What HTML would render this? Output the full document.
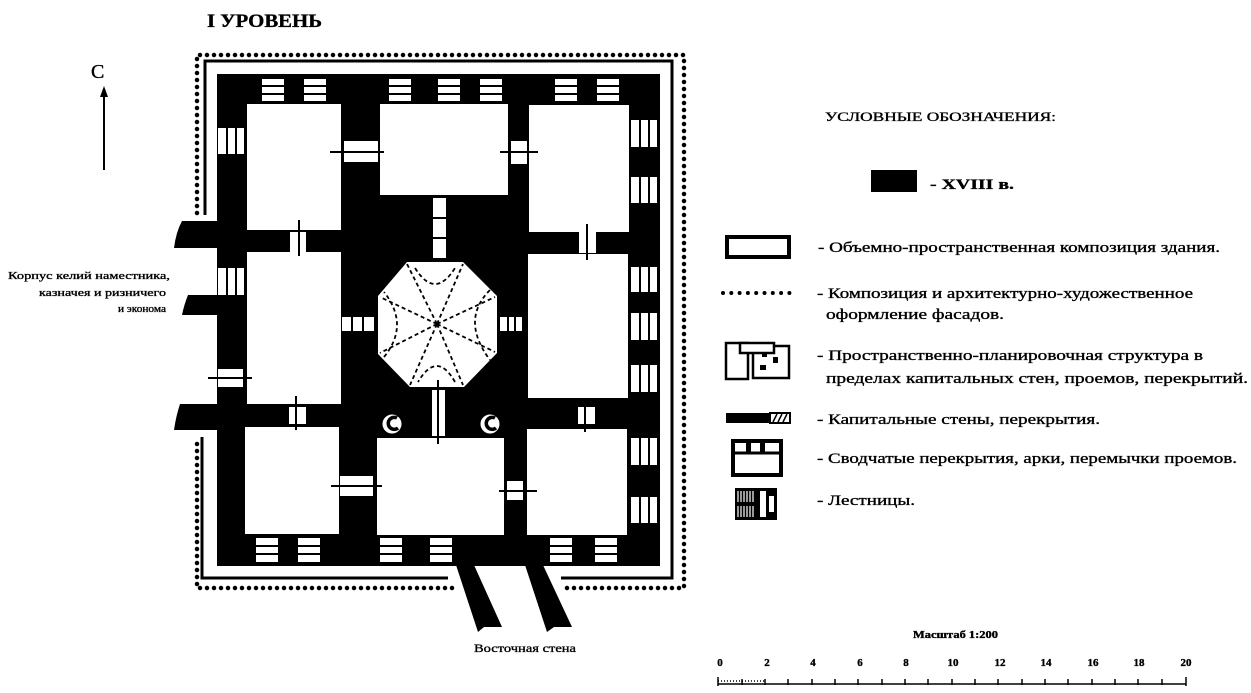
<!DOCTYPE html>
<html><head><meta charset="utf-8"><style>
html,body{margin:0;padding:0;background:#fff;width:1251px;height:693px;overflow:hidden}
svg{display:block}
text{font-family:"Liberation Serif",serif;fill:#000;stroke:#000;stroke-width:0.35}
</style></head><body>
<svg width="1251" height="693" viewBox="0 0 1251 693" xmlns="http://www.w3.org/2000/svg">
<!-- title -->
<text x="207" y="27" font-size="19" font-weight="bold" textLength="115" lengthAdjust="spacingAndGlyphs">I УРОВЕНЬ</text>
<text x="91" y="78" font-size="20">C</text>
<line x1="104" y1="95" x2="104" y2="170" stroke="#000" stroke-width="2"/>
<polygon points="104,86 100,97 108,97" fill="#000"/>

<!-- dotted outer -->
<g stroke="#000" stroke-width="4.5" stroke-dasharray="0 7" stroke-linecap="round" fill="none">
<polyline points="197,213 197,55 684,55 684,588 562,588"/>
<polyline points="452,588 197,588 197,437"/>
</g>
<!-- inner solid -->
<g stroke="#000" stroke-width="3" fill="none">
<polyline points="205,215 205,61 672,61 672,578 561,578"/>
<polyline points="448,578 202,578 202,437"/>
</g>

<!-- arms -->
<g fill="#000">
<path d="M217,221 L182,221 Q176,232 174,248 L217,248 Z"/>
<path d="M217,295 L188,295 Q184,305 182,315 L217,315 Z"/>
<path d="M217,404 L180,404 Q176,416 174,430 L217,430 Z"/>
<path d="M456,565 L474,565 L502,627 L484,627 L478,632 Z"/>
<path d="M525,565 L543,565 L572,627 L554,627 L547,632 Z"/>
</g>

<!-- black mass -->
<rect x="217" y="74" width="443" height="492" fill="#000"/>

<!-- rooms -->
<g fill="#fff">
<rect x="247" y="104" width="94" height="126"/>
<rect x="380" y="104" width="128" height="91"/>
<rect x="529" y="105" width="100" height="127"/>
<rect x="247" y="252" width="94" height="152"/>
<rect x="528" y="254" width="100" height="144"/>
<rect x="245" y="427" width="94" height="107"/>
<rect x="377" y="438" width="127" height="97"/>
<rect x="527" y="429" width="100" height="106"/>
<polygon points="407,262 463,262 497,296 497,353 464,387 410,387 378,354 378,296"/>
</g>
<!-- octagon dashed star -->
<g stroke="#000" stroke-width="1.8" stroke-dasharray="4 3" fill="none">
<path d="M437,324 L407,264 M437,324 L463,264 M437,324 L495,297 M437,324 L495,352 M437,324 L463,385 M437,324 L410,385 M437,324 L380,353 M437,324 L380,297"/>
<path d="M415,268 Q435,300 455,268 M490,290 Q460,320 490,360 M455,382 Q437,350 418,382 M384,357 Q410,325 384,292"/>
</g>

<!-- horizontal stairs (top/bottom walls) -->
<g fill="#fff" stroke="#000" stroke-width="2">
<rect x="261" y="78" width="24" height="24"/><rect x="303" y="78" width="24" height="24"/>
<rect x="388" y="78" width="24" height="24"/><rect x="437" y="78" width="24" height="24"/><rect x="479" y="78" width="24" height="24"/>
<rect x="554" y="78" width="24" height="24"/><rect x="596" y="78" width="24" height="24"/>
<rect x="255" y="537" width="24" height="26"/><rect x="297" y="537" width="24" height="26"/>
<rect x="379" y="537" width="24" height="26"/><rect x="429" y="537" width="24" height="26"/>
<rect x="549" y="537" width="24" height="26"/><rect x="594" y="537" width="24" height="26"/>
</g>
<g stroke="#000" stroke-width="2">
<path d="M255,86H630M255,94H630M250,546H625M250,554H625"/>
</g>
<!-- vertical stairs -->
<g fill="#fff">
<rect x="218" y="128" width="26" height="26"/><rect x="218" y="268" width="26" height="27"/>
<rect x="631" y="120" width="26" height="27"/><rect x="631" y="177" width="26" height="26"/>
<rect x="631" y="267" width="26" height="25"/><rect x="631" y="313" width="26" height="27"/>
<rect x="631" y="365" width="26" height="27"/><rect x="631" y="438" width="26" height="27"/>
<rect x="631" y="497" width="26" height="26"/>
<rect x="342" y="317" width="32" height="14"/><rect x="500" y="317" width="22" height="14"/>
</g>
<g stroke="#000" stroke-width="2">
<path d="M227,120V300M236,120V300M640,115V530M649,115V530M352,315V333M363,315V333M508,315V333M515,315V333"/>
</g>
<!-- doors -->
<g fill="#fff">
<rect x="344" y="141" width="34" height="21"/><rect x="511" y="141" width="16" height="23"/>
<rect x="290" y="232" width="16" height="20"/><rect x="579" y="232" width="17" height="21"/>
<rect x="289" y="407" width="17" height="17"/><rect x="578" y="407" width="17" height="17"/>
<rect x="340" y="476" width="33" height="20"/><rect x="507" y="481" width="16" height="19"/>
<rect x="218" y="369" width="25" height="18"/>
<rect x="433" y="198" width="13" height="60"/>
<rect x="432" y="390" width="13" height="46"/>
</g>
<g stroke="#000" stroke-width="2" fill="none">
<path d="M330,152H384M500,152H538M299,220V256M587,224V260M296,396V430M585,398V432M331,486H382M499,491H537M208,378H252M433,218H446M433,238H446M438,380V444"/>
</g>
<!-- circles -->
<g fill="#fff" stroke="#000" stroke-width="3">
<circle cx="392" cy="424" r="11"/><circle cx="490" cy="424" r="11"/>
</g>
<g fill="none" stroke="#000" stroke-width="3.5"><path d="M397,418 a6,6 0 1 0 1,10"/><path d="M495,418 a6,6 0 1 0 1,10"/></g>

<!-- left label -->
<g font-size="11" text-anchor="end">
<text x="170" y="279" textLength="162" lengthAdjust="spacingAndGlyphs">Корпус келий наместника,</text>
<text x="166" y="296" textLength="127" lengthAdjust="spacingAndGlyphs">казначея и ризничего</text>
<text x="166" y="312" textLength="48" lengthAdjust="spacingAndGlyphs">и эконома</text>
</g>
<text x="474" y="652" font-size="12" textLength="102" lengthAdjust="spacingAndGlyphs">Восточная стена</text>

<!-- legend -->
<text x="825" y="121" font-size="13" textLength="231" lengthAdjust="spacingAndGlyphs">УСЛОВНЫЕ ОБОЗНАЧЕНИЯ:</text>
<rect x="871" y="170" width="46" height="22" fill="#000"/>
<text x="930" y="189" font-size="15" font-weight="bold" textLength="84" lengthAdjust="spacingAndGlyphs">- XVIII в.</text>

<rect x="727" y="237" width="62" height="20" fill="#fff" stroke="#000" stroke-width="4"/>
<text x="818" y="252" font-size="15" textLength="402" lengthAdjust="spacingAndGlyphs">- Объемно-пространственная композиция здания.</text>

<line x1="723" y1="293" x2="790" y2="293" stroke="#000" stroke-width="4" stroke-dasharray="0 8.3" stroke-linecap="round"/>
<text x="817" y="298" font-size="15" textLength="376" lengthAdjust="spacingAndGlyphs">- Композиция и архитектурно-художественное</text>
<text x="826" y="319" font-size="15" textLength="178" lengthAdjust="spacingAndGlyphs">оформление фасадов.</text>

<g stroke="#000" stroke-width="2.5" fill="#fff">
<rect x="726" y="343" width="22" height="36"/>
<rect x="753" y="346" width="36" height="32"/>
<rect x="740" y="343" width="34" height="10"/>
</g>
<g fill="#000"><rect x="762" y="352" width="5" height="5"/><rect x="773" y="357" width="5" height="6"/><rect x="760" y="365" width="6" height="5"/></g>
<text x="817" y="360" font-size="15" textLength="386" lengthAdjust="spacingAndGlyphs">- Пространственно-планировочная структура  в</text>
<text x="826" y="383" font-size="15" textLength="422" lengthAdjust="spacingAndGlyphs">пределах капитальных стен,  проемов,  перекрытий.</text>

<rect x="726" y="413" width="44" height="10" fill="#000"/>
<rect x="770" y="413" width="20" height="10" fill="#fff" stroke="#000" stroke-width="2"/>
<path d="M773,422 l4,-8 M778,422 l4,-8 M783,422 l4,-8" stroke="#000" stroke-width="1.5"/>
<text x="817" y="424" font-size="15" textLength="283" lengthAdjust="spacingAndGlyphs">- Капитальные стены, перекрытия.</text>

<rect x="733" y="441" width="48" height="34" fill="#fff" stroke="#000" stroke-width="4"/>
<line x1="733" y1="453" x2="781" y2="453" stroke="#000" stroke-width="3"/>
<rect x="746" y="441" width="5" height="12" fill="#000"/><rect x="760" y="441" width="5" height="12" fill="#000"/>
<text x="817" y="463" font-size="15" textLength="420" lengthAdjust="spacingAndGlyphs">- Сводчатые перекрытия, арки, перемычки проемов.</text>

<rect x="735" y="488" width="42" height="32" fill="#000"/>
<g stroke="#fff" stroke-width="1.2">
<path d="M738,491V502M741,491V502M744,491V502M747,491V502M750,491V502M753,491V502M738,506V517M741,506V517M744,506V517M747,506V517M750,506V517M753,506V517"/>
</g>
<rect x="760" y="491" width="6" height="26" fill="#fff"/><rect x="769" y="496" width="5" height="16" fill="#fff"/>
<text x="817" y="505" font-size="15" textLength="98" lengthAdjust="spacingAndGlyphs">- Лестницы.</text>

<!-- scale -->
<text x="913" y="638" font-size="10" font-weight="bold" textLength="85" lengthAdjust="spacingAndGlyphs">Масштаб 1:200</text>
<g font-size="11" font-weight="bold" text-anchor="middle">
<text x="720" y="666">0</text><text x="767" y="666">2</text><text x="813" y="666">4</text><text x="860" y="666">6</text><text x="906" y="666">8</text><text x="953" y="666">10</text><text x="1000" y="666">12</text><text x="1046" y="666">14</text><text x="1093" y="666">16</text><text x="1139" y="666">18</text><text x="1186" y="666">20</text>
</g>
<g stroke="#000" stroke-width="1.5" fill="none">
<path d="M718,684H1186M718,677V686M1186,677V686"/>
<path d="M742,679V685M765,679V685M788,679V685M812,679V685M835,679V685M858,679V685M882,679V685M905,679V685M928,679V685M952,679V685M975,679V685M998,679V685M1022,679V685M1045,679V685M1068,679V685M1092,679V685M1115,679V685M1138,679V685M1162,679V685"/>
<path d="M718,681H765" stroke-dasharray="1 2"/>
</g>
</svg>
</body></html>
